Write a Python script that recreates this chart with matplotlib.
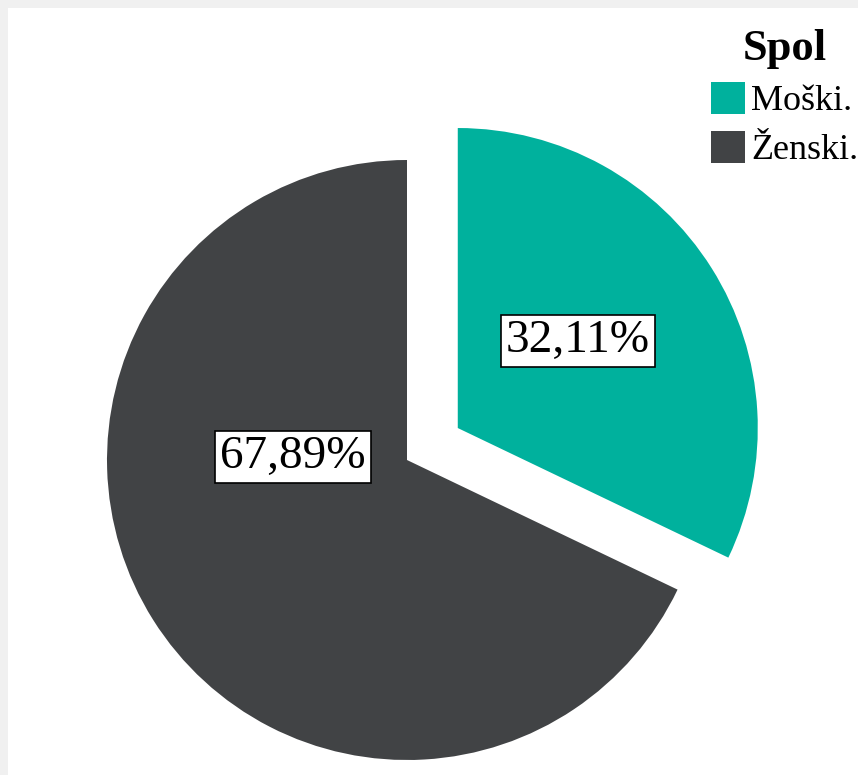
import matplotlib
matplotlib.use("Agg")
import matplotlib.pyplot as plt
from matplotlib.patches import Rectangle

# Podatki
kategorije = ["Moški.", "Ženski."]
odstotki = [32.11, 67.89]
barve = ["#00B19D", "#414345"]
naslov_legende = "Spol"

plt.rcParams["font.family"] = ["Liberation Serif", "DejaVu Serif"]

W, H = 858, 775
fig = plt.figure(figsize=(W / 100, H / 100), dpi=100)
ax = fig.add_axes([0, 0, 1, 1])

# sivi rob zgoraj in levo
fig.patches.append(Rectangle((0, 0), 1, 1, transform=fig.transFigure,
                             facecolor="#F0F0F0", zorder=-10))
ax.add_patch(Rectangle((8, 0), W - 8, H - 8, facecolor="white",
                       edgecolor="none", zorder=-5))

R = 300
center = (407, H - 460)
# explode je v pie podan v enotah podatkov (tu piksli)
wedges, _, autotexts = ax.pie(
    odstotki, colors=barve, startangle=90, counterclock=False,
    explode=[0.2 * R, 0], radius=R, center=center,
    autopct=lambda p: f"{p:.2f}%".replace(".", ","),
    wedgeprops=dict(linewidth=0), frame=True,
    textprops=dict(fontsize=34, color="black"))
ax.set_xlim(0, W)
ax.set_ylim(0, H)
ax.axis("off")

# položaj oznak glede na središče izseka (v enotah polmera)
odmiki = [(0.40, 0.29), (-0.38, 0.01)]
for w, t, (dx, dy) in zip(wedges, autotexts, odmiki):
    cx, cy = w.center
    t.set_position((cx + dx * R, cy + dy * R))
    t.set_ha("center")
    t.set_va("center")
    t.set_bbox(dict(boxstyle="square,pad=0.1", facecolor="white",
                    edgecolor="black", linewidth=1.2))

leg = ax.legend(wedges, kategorije, title=naslov_legende, loc="upper right",
                bbox_to_anchor=(1.0, 0.962), frameon=False, fontsize=26,
                title_fontproperties=dict(size=32, weight="bold"),
                handlelength=0.95, handleheight=1.0, handletextpad=0.15,
                labelspacing=0.34, borderpad=0, borderaxespad=0)

fig.savefig("out.png", dpi=100)
